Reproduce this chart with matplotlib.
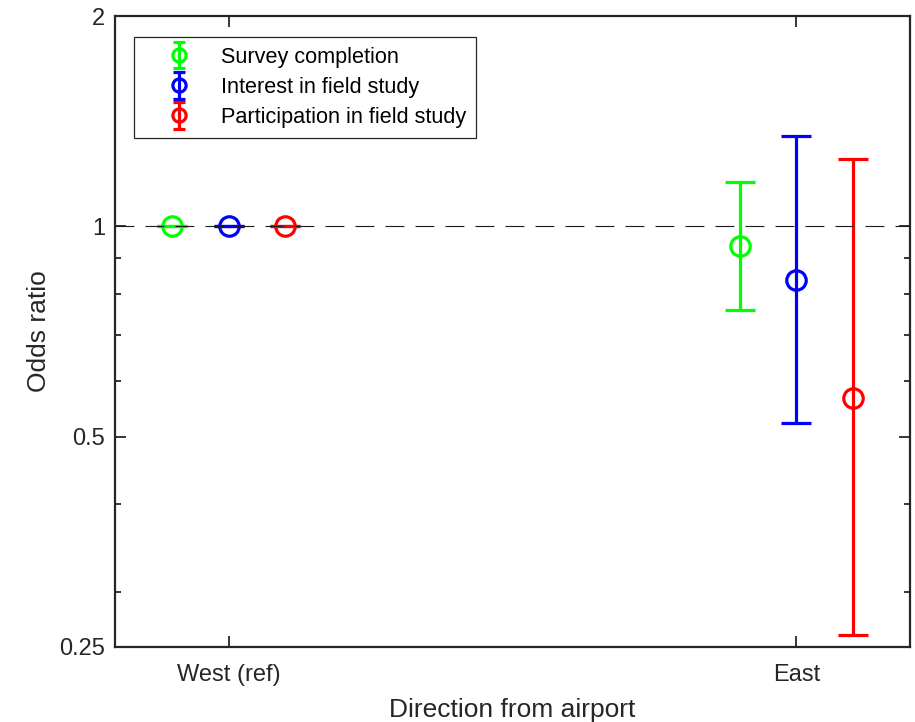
import matplotlib
matplotlib.use("Agg")
import matplotlib.pyplot as plt
from matplotlib.lines import Line2D
from matplotlib.ticker import FixedLocator, NullFormatter
from matplotlib.legend_handler import HandlerErrorbar
import numpy as np

plt.rcParams['font.family'] = ['Liberation Sans', 'DejaVu Sans']

# Odds ratios by direction from the airport (West is the reference level)
directions = ["West (ref)", "East"]
series_names = ["Survey completion", "Interest in field study", "Participation in field study"]
series_colors = ["#00ff00", "#0000ff", "#ff0000"]

odds = [[1.0, 0.937],
        [1.0, 0.838],
        [1.0, 0.568]]
ci_low = [[1.0, 0.759],
          [1.0, 0.523],
          [1.0, 0.260]]
ci_high = [[1.0, 1.158],
           [1.0, 1.347],
           [1.0, 1.249]]

offsets = [-0.1, 0.0, 0.1]

fig = plt.figure(figsize=(9.15, 7.22), dpi=100)
ax = fig.add_axes([0.1257, 0.1039, 0.8688, 0.8739])

ax.axhline(1.0, color="#1a1a1a", lw=0.8, dashes=(17, 10), zorder=4)

xbase = np.arange(1, len(directions) + 1)
for name, col, off, o, lo, hi in zip(series_names, series_colors, offsets, odds, ci_low, ci_high):
    o = np.array(o); lo = np.array(lo); hi = np.array(hi)
    ax.errorbar(xbase + off, o, yerr=[o - lo, hi - o], fmt='o', ls='none',
                color=col, mfc='none', mec=col, ms=14, mew=2.3,
                elinewidth=2.3, capsize=10.5, capthick=2.3, label=name, zorder=3)

ax.set_yscale('log')
ax.set_ylim(0.25, 2)
ax.set_xlim(0.8, 2.2)
ax.yaxis.set_major_locator(FixedLocator([0.25, 0.5, 1, 2]))
ax.set_yticklabels(["0.25", "0.5", "1", "2"])
ax.yaxis.set_minor_locator(FixedLocator([0.3, 0.4, 0.6, 0.7, 0.8, 0.9]))
ax.yaxis.set_minor_formatter(NullFormatter())
ax.set_xticks(xbase)
ax.set_xticklabels(directions)

ax.tick_params(which='both', direction='in', top=True, right=True, labelsize=17,
               width=1.3, colors='#262626')
ax.tick_params(which='major', length=8, pad=7)
ax.tick_params(which='minor', length=4)
ax.tick_params(axis='x', which='major', pad=12)
for s in ax.spines.values():
    s.set_linewidth(1.6)
    s.set_color('#262626')

ax.set_xlabel("Direction from airport", fontsize=19, color='#262626', labelpad=9)
ax.set_ylabel("Odds ratio", fontsize=19, color='#262626', labelpad=6)

leg = ax.legend(loc='upper left', bbox_to_anchor=(0.0245, 0.967), fontsize=15.6,
                frameon=True, fancybox=False, framealpha=1, edgecolor='#262626',
                handlelength=3.2, handletextpad=0.36, borderpad=0.45, labelspacing=0.42,
                borderaxespad=0, markerscale=0.68,
                handler_map={type(ax.containers[0]): HandlerErrorbar(yerr_size=0.62)})
leg.get_frame().set_linewidth(0.9)
# narrower caps on the legend keys
for ln in leg.findobj(Line2D):
    if ln.get_marker() == '_':
        ln.set_markersize(9)

fig.savefig("out.png", dpi=100)
